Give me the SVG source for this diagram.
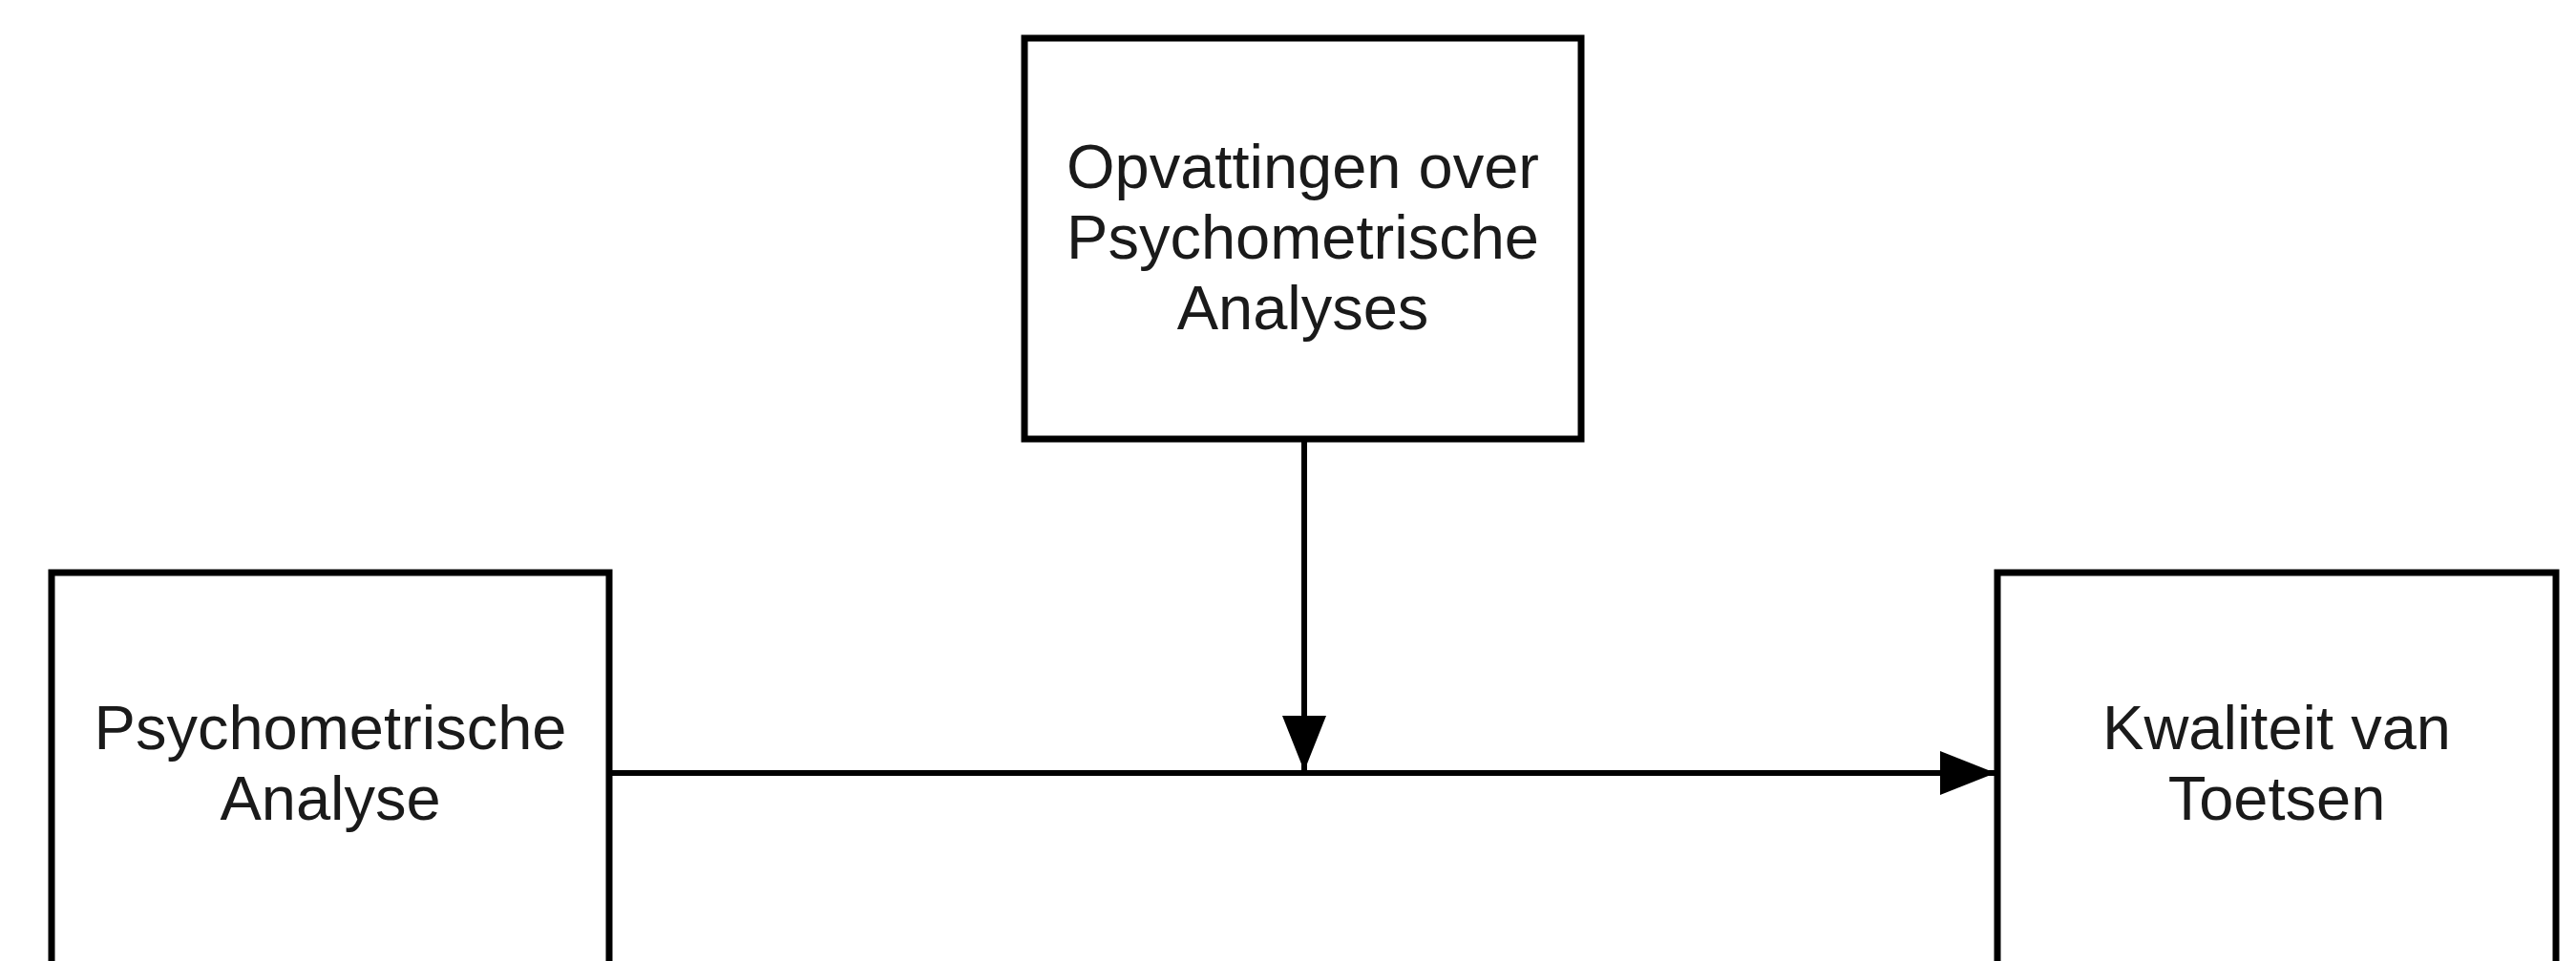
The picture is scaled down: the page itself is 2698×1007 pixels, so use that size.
<svg xmlns="http://www.w3.org/2000/svg" width="2698" height="1007" viewBox="0 0 2698 1007">
<defs>
<style>
.box{fill:#fff;stroke:#000;stroke-width:7}
.lbl{font-family:"Liberation Sans",Arial,sans-serif;font-size:65px;fill:#1a1a1a;text-anchor:middle}
.conn{stroke:#000;stroke-width:6;fill:none}
</style>
<marker id="arrow" markerUnits="userSpaceOnUse" markerWidth="60" markerHeight="46" refX="58" refY="23" orient="auto" viewBox="0 0 60 46">
<path d="M0,0 L58,23 L0,46 Z" fill="#000"/>
</marker>
</defs>
<rect width="2698" height="1007" fill="#fff"/>
<g id="connectors">
<line class="conn" x1="638" y1="810" x2="2090" y2="810" marker-end="url(#arrow)"/>
<line class="conn" x1="1366" y1="461" x2="1366" y2="808" marker-end="url(#arrow)"/>
</g>
<g id="node-opvattingen">
<rect class="box" x="1073" y="40" width="583" height="420"/>
<text class="lbl"><tspan x="1364.5" y="197">Opvattingen over</tspan><tspan x="1364.5" y="271">Psychometrische</tspan><tspan x="1364.5" y="345">Analyses</tspan></text>
</g>
<g id="node-analyse">
<rect class="box" x="54" y="600" width="584" height="500"/>
<text class="lbl"><tspan x="346" y="785">Psychometrische</tspan><tspan x="346" y="859">Analyse</tspan></text>
</g>
<g id="node-kwaliteit">
<rect class="box" x="2092" y="600" width="585" height="500"/>
<text class="lbl"><tspan x="2384.5" y="785">Kwaliteit van</tspan><tspan x="2384.5" y="859">Toetsen</tspan></text>
</g>
</svg>
